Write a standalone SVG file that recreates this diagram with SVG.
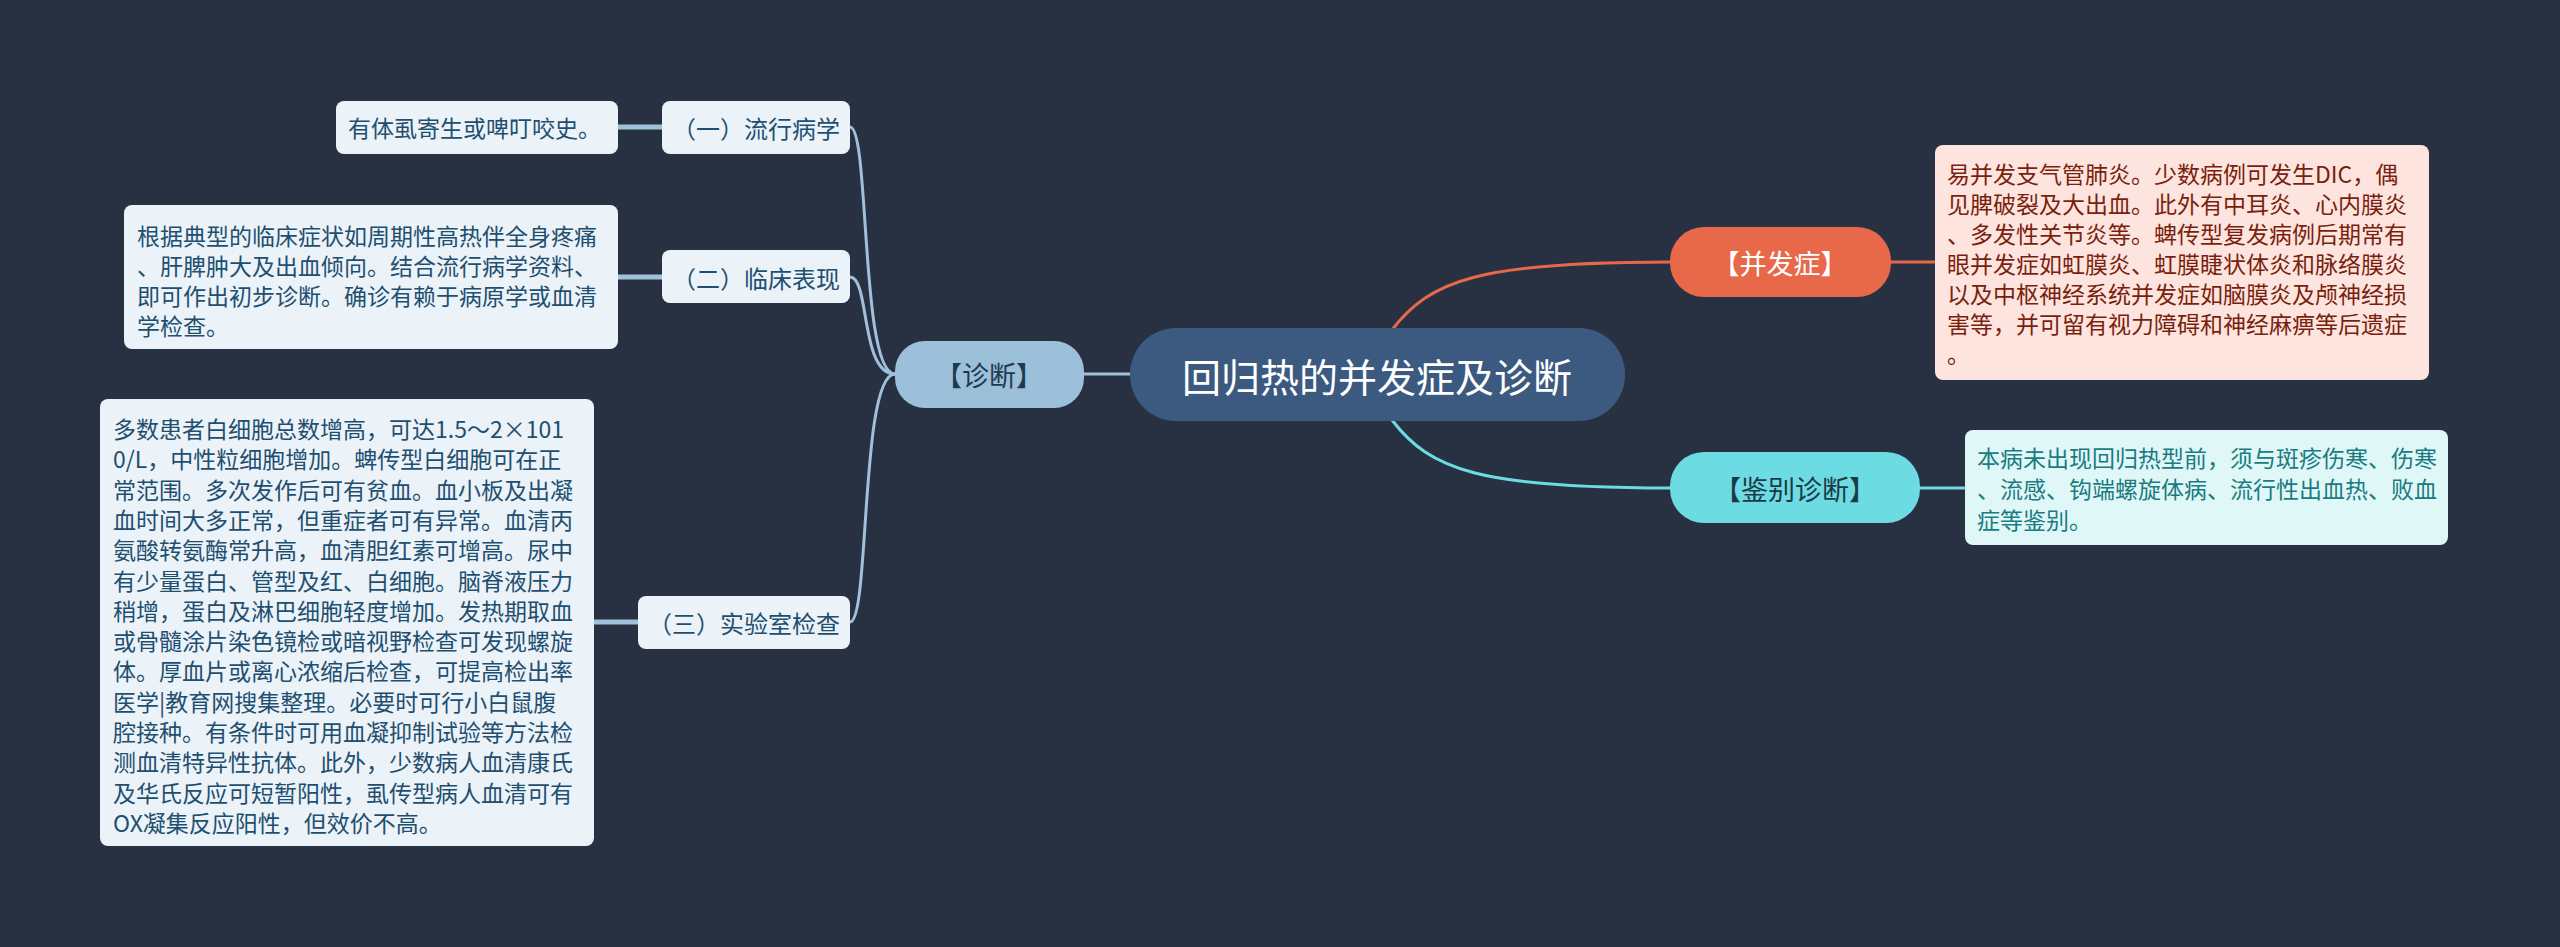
<svg xmlns="http://www.w3.org/2000/svg" width="2560" height="947" viewBox="0 0 2560 947">
<style>
text{font-family:"Noto Sans CJK SC","Noto Sans",sans-serif;dominant-baseline:central}
.leaf rect{fill:#ebf3f9}
.leaf text{fill:#1f4f70;font-size:23px}
.sub rect{fill:#ebf3f9}
.sub text{fill:#1f4f70;font-size:24px;text-anchor:middle}
.c{fill:none;stroke-width:3}
</style>
<rect width="2560" height="947" fill="#283142"/>
<g id="connectors">
<path class="c" stroke="#9fc1da" d="M1084,374 L1130,374"/>
<path class="c" stroke="#9fc1da" d="M895,374 C860,374 870,127 850,127"/>
<path class="c" stroke="#9fc1da" d="M895,374 C860,374 870,277 850,277"/>
<path class="c" stroke="#9fc1da" d="M895,374 C860,374 870,622 850,622"/>
<path stroke="#9fc1da" stroke-width="5" fill="none" d="M618,127 L662,127 M618,277 L662,277 M594,622 L638,622"/>
<path class="c" stroke="#e8684a" d="M1392,330 C1430,280 1480,262 1670,262"/>
<path class="c" stroke="#e8684a" d="M1891,262 L1935,262"/>
<path class="c" stroke="#6ddbe2" d="M1392,420 C1430,470 1480,488 1670,488"/>
<path class="c" stroke="#6ddbe2" d="M1920,488 L1965,488"/>
</g>
<g id="center"><rect x="1130" y="328" width="495" height="93" rx="46" fill="#3c5a80"/><text x="1377" y="375" fill="#fff" font-size="39" text-anchor="middle">回归热的并发症及诊断</text></g>
<g id="diag"><rect x="895" y="341" width="189" height="67" rx="30" fill="#9cc0da"/><text x="989" y="374" fill="#1e3a52" font-size="27" text-anchor="middle">【诊断】</text></g>
<g id="sub1" class="sub"><rect x="662" y="101" width="188" height="53" rx="8"/><text x="756" y="127">（一）流行病学</text></g>
<g id="sub2" class="sub"><rect x="662" y="250" width="188" height="53" rx="8"/><text x="756" y="277">（二）临床表现</text></g>
<g id="sub3" class="sub"><rect x="638" y="596" width="212" height="53" rx="8"/><text x="744" y="622">（三）实验室检查</text></g>
<g id="leaf1" class="leaf"><rect x="336" y="101" width="282" height="53" rx="8"/><text x="348" y="127">有体虱寄生或啤叮咬史。</text></g>
<g id="leaf2" class="leaf"><rect x="124" y="205" width="494" height="144" rx="8"/>
<text x="137" y="235">根据典型的临床症状如周期性高热伴全身疼痛</text>
<text x="137" y="265">、肝脾肿大及出血倾向。结合流行病学资料、</text>
<text x="137" y="295">即可作出初步诊断。确诊有赖于病原学或血清</text>
<text x="137" y="325">学检查。</text></g>
<g id="leaf3" class="leaf"><rect x="100" y="399" width="494" height="447" rx="8"/>
<text x="113" y="428">多数患者白细胞总数增高，可达1.5～2×101</text>
<text x="113" y="458">0/L，中性粒细胞增加。蜱传型白细胞可在正</text>
<text x="113" y="489">常范围。多次发作后可有贫血。血小板及出凝</text>
<text x="113" y="519">血时间大多正常，但重症者可有异常。血清丙</text>
<text x="113" y="549">氨酸转氨酶常升高，血清胆红素可增高。尿中</text>
<text x="113" y="580">有少量蛋白、管型及红、白细胞。脑脊液压力</text>
<text x="113" y="610">稍增，蛋白及淋巴细胞轻度增加。发热期取血</text>
<text x="113" y="640">或骨髓涂片染色镜检或暗视野检查可发现螺旋</text>
<text x="113" y="670">体。厚血片或离心浓缩后检查，可提高检出率</text>
<text x="113" y="701">医学|教育网搜集整理。必要时可行小白鼠腹</text>
<text x="113" y="731">腔接种。有条件时可用血凝抑制试验等方法检</text>
<text x="113" y="761">测血清特异性抗体。此外，少数病人血清康氏</text>
<text x="113" y="792">及华氏反应可短暂阳性，虱传型病人血清可有</text>
<text x="113" y="822">OX凝集反应阳性，但效价不高。</text></g>
<g id="comp"><rect x="1670" y="227" width="221" height="70" rx="34" fill="#e8684a"/><text x="1780" y="262" fill="#fff" font-size="27" text-anchor="middle">【并发症】</text></g>
<g id="compText"><rect x="1935" y="145" width="494" height="235" rx="8" fill="#fde4de"/>
<g fill="#7a1f0e" font-size="23">
<text x="1947" y="173">易并发支气管肺炎。少数病例可发生DIC，偶</text>
<text x="1947" y="203">见脾破裂及大出血。此外有中耳炎、心内膜炎</text>
<text x="1947" y="233">、多发性关节炎等。蜱传型复发病例后期常有</text>
<text x="1947" y="263">眼并发症如虹膜炎、虹膜睫状体炎和脉络膜炎</text>
<text x="1947" y="293">以及中枢神经系统并发症如脑膜炎及颅神经损</text>
<text x="1947" y="323">害等，并可留有视力障碍和神经麻痹等后遗症</text>
<text x="1947" y="353">。</text></g></g>
<g id="diff"><rect x="1670" y="452" width="250" height="71" rx="34" fill="#6ddbe2"/><text x="1795" y="488" fill="#1b3a48" font-size="27" text-anchor="middle">【鉴别诊断】</text></g>
<g id="diffText"><rect x="1965" y="430" width="483" height="115" rx="8" fill="#e0f7f8"/>
<g fill="#1a7b82" font-size="23">
<text x="1977" y="457">本病未出现回归热型前，须与斑疹伤寒、伤寒</text>
<text x="1977" y="488">、流感、钩端螺旋体病、流行性出血热、败血</text>
<text x="1977" y="519">症等鉴别。</text></g></g>
</svg>
